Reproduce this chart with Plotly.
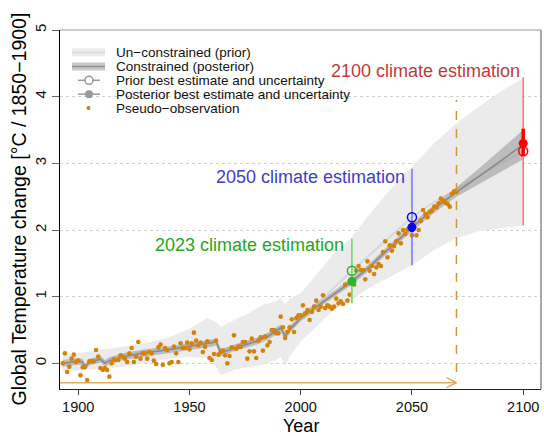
import plotly.graph_objects as go

# ---------------- data ----------------
obs_start = 1893
obs_values = [
    0.00, 0.15, -0.13, -0.05, 0.07, 0.13, 0.02, 0.04, -0.18, -0.06,   # 1893-1902
    -0.05, -0.25, 0.03, 0.03, 0.03, 0.20, 0.10, -0.07, -0.10, -0.07,  # 1903-1912
    -0.10, -0.20, 0.00, 0.06, 0.05, 0.05, 0.12, 0.10, 0.07, 0.02,     # 1913-1922
    0.15, 0.23, 0.02, 0.10, 0.32, 0.07, 0.15, 0.15, 0.07, 0.17,       # 1923-1932
    0.15, 0.04, -0.01, 0.24, 0.28, -0.02, 0.23, 0.20, 0.00, 0.02,     # 1933-1942
    0.25, 0.15, 0.02, 0.30, 0.23, 0.23, 0.31, 0.21, 0.30, 0.46,       # 1943-1952
    0.34, 0.27, 0.31, 0.17, 0.25, 0.33, 0.08, 0.05, 0.14, 0.34,       # 1953-1962
    0.13, 0.17, 0.19, 0.12, 0.00, 0.11, 0.24, 0.42, 0.22, 0.25,       # 1963-1972
    0.25, 0.32, 0.32, 0.07, 0.18, 0.37, 0.18, 0.08, 0.34, 0.39,       # 1973-1982
    0.19, 0.40, 0.27, 0.32, 0.50, 0.50, 0.45, 0.45, 0.70, 0.54,       # 1983-1992
    0.38, 0.47, 0.54, 0.66, 0.47, 0.68, 0.72, 0.72, 0.87, 0.75,       # 1993-2002
    0.80, 0.65, 0.77, 0.85, 0.94, 0.80, 0.85, 1.02, 0.83, 0.87,       # 2003-2012
    0.85, 0.82, 0.85, 0.97, 0.90, 0.93, 0.89, 1.18, 0.94, 1.03,       # 2013-2022
    1.22, 1.18, 1.39, 1.46, 1.40, 1.40, 1.26, 1.53, 1.39, 1.46,       # 2023-2032
    1.34, 1.44, 1.49, 1.46, 1.67, 1.83, 1.59, 1.77, 1.69, 1.76,       # 2033-2042
    1.83, 1.95, 1.80, 2.00, 1.94, 2.01, 2.05, 1.92, 2.09, 1.92,       # 2043-2052
    2.00, 2.14, 2.30, 2.24, 2.19, 2.27, 2.29, 2.35, 2.34, 2.40,       # 2053-2062
    2.47, 2.44, 2.41, 2.39, 2.35, 2.54, 2.58, 2.57,                   # 2063-2070
]
obs_years = list(range(obs_start, obs_start + len(obs_values)))

post_years = [1893, 1900, 1902, 1903, 1905, 1910, 1912, 1914, 1920, 1930, 1940, 1950,
              1960, 1962, 1964, 1966, 1970, 1980, 1985, 1990, 1991, 1993, 1995, 2000,
              2005, 2010, 2015, 2020, 2023, 2030, 2040, 2050, 2060, 2070, 2080, 2090, 2100]
post_mean = [0.00, 0.03, 0.02, -0.06, 0.02, 0.06, 0.00, 0.04, 0.10, 0.16, 0.20, 0.25,
             0.30, 0.32, 0.16, 0.18, 0.23, 0.33, 0.40, 0.50, 0.53, 0.40, 0.50, 0.68,
             0.80, 0.93, 1.05, 1.16, 1.23, 1.42, 1.73, 2.04, 2.32, 2.57, 2.80, 3.04, 3.28]
post_lo = [-0.05, -0.02, -0.03, -0.11, -0.03, 0.01, -0.05, -0.01, 0.05, 0.11, 0.15, 0.20,
           0.25, 0.27, 0.10, 0.13, 0.18, 0.28, 0.35, 0.45, 0.48, 0.34, 0.45, 0.63,
           0.75, 0.88, 1.00, 1.11, 1.18, 1.37, 1.68, 1.98, 2.26, 2.50, 2.68, 2.87, 3.06]
post_hi = [0.05, 0.08, 0.07, -0.01, 0.07, 0.11, 0.05, 0.09, 0.15, 0.21, 0.25, 0.30,
           0.35, 0.37, 0.22, 0.23, 0.28, 0.38, 0.45, 0.55, 0.58, 0.46, 0.55, 0.73,
           0.85, 0.98, 1.10, 1.21, 1.28, 1.47, 1.78, 2.10, 2.38, 2.64, 2.92, 3.21, 3.50]

prior_mean_years = [1893, 1900, 1903, 1905, 1910, 1912, 1920, 1930, 1940, 1950, 1960, 1962,
                    1964, 1970, 1980, 1990, 1991, 1993, 1995, 2000, 2005, 2010, 2015, 2020,
                    2023, 2030, 2040, 2050, 2060, 2070, 2080, 2090, 2100]
prior_mean = [0.00, 0.03, -0.04, 0.02, 0.07, 0.02, 0.11, 0.17, 0.21, 0.27, 0.33, 0.35,
              0.20, 0.26, 0.36, 0.53, 0.56, 0.45, 0.54, 0.72, 0.84, 0.98, 1.13, 1.29,
              1.39, 1.60, 1.90, 2.19, 2.42, 2.62, 2.81, 3.00, 3.18]

prior_years = [1893, 1900, 1910, 1920, 1930, 1940, 1950, 1958, 1962, 1964, 1970, 1977,
               1983, 1989, 1991, 1993, 1995, 2000, 2005, 2010, 2015, 2020, 2023, 2030,
               2040, 2050, 2060, 2070, 2080, 2090, 2100]
prior_lo = [-0.12, -0.10, -0.08, -0.05, 0.00, 0.07, 0.10, 0.08, -0.05, -0.18, -0.10, -0.05,
            -0.02, 0.05, 0.10, -0.05, 0.10, 0.33, 0.48, 0.65, 0.80, 0.90, 0.95, 1.12,
            1.30, 1.47, 1.70, 1.88, 1.98, 2.03, 2.07]
prior_hi = [0.12, 0.15, 0.20, 0.25, 0.30, 0.38, 0.52, 0.68, 0.62, 0.55, 0.65, 0.76,
            0.88, 0.93, 0.98, 0.88, 0.97, 1.05, 1.25, 1.45, 1.65, 1.80, 1.90, 2.20,
            2.60, 2.95, 3.30, 3.60, 3.85, 4.08, 4.28]

est_years = [2023, 2050, 2100]
est_labels = ["2023 climate estimation", "2050 climate estimation", "2100 climate estimation"]
est_label_y = [1.78, 2.80, 4.39]
prior_best = [1.39, 2.19, 3.18]
prior_low = [0.90, 1.47, 2.07]
prior_high = [1.87, 2.92, 4.29]
post_best = [1.23, 2.04, 3.30]
post_low = [1.17, 1.97, 3.12]
post_high = [1.29, 2.11, 3.52]

horizon_year = 2070
horizon_top = 3.95
horizon_bottom = -0.13
arrow_y = -0.29

x_ticks = [1900, 1950, 2000, 2050, 2100]
y_ticks = [0, 1, 2, 3, 4, 5]

# ---------------- styling ----------------
FONT = "Liberation Sans, Arial, Helvetica, sans-serif"
text_colors = ["#22a822", "#3d3dcc", "#c23a3a"]
range_colors = ["#72d472", "#7b7bff", "#ff7b7b"]
marker_colors = ["#2db42d", "#0000ff", "#ff0000"]
OBS_COLOR = "#d4820a"
XR = [1891.8, 2108.0]
YR = [-0.385, 5.0]

W, H = 544, 436
ML, MR, MT, MB = 60, 3, 30, 47

fig = go.Figure()

# prior (unconstrained) envelope
fig.add_trace(go.Scatter(
    x=prior_years + prior_years[::-1], y=prior_hi + prior_lo[::-1],
    fill="toself", fillcolor="#ebebeb", mode="lines", line=dict(width=0),
    hoverinfo="skip", showlegend=False))
fig.add_trace(go.Scatter(
    x=prior_mean_years, y=prior_mean, mode="lines",
    line=dict(color="#d8d8d8", width=2), hoverinfo="skip", showlegend=False))
# posterior (constrained) envelope
fig.add_trace(go.Scatter(
    x=post_years + post_years[::-1], y=post_hi + post_lo[::-1],
    fill="toself", fillcolor="rgba(150,150,150,0.55)", mode="lines", line=dict(width=0),
    hoverinfo="skip", showlegend=False))
fig.add_trace(go.Scatter(
    x=post_years, y=post_mean, mode="lines",
    line=dict(color="#8a8a8a", width=1.6), hoverinfo="skip", showlegend=False))
# pseudo-observations
fig.add_trace(go.Scatter(
    x=obs_years, y=obs_values, mode="markers",
    marker=dict(color=OBS_COLOR, size=4.6, line=dict(width=0)),
    showlegend=False))

annotations = []
for i, yr in enumerate(est_years):
    fig.add_trace(go.Scatter(x=[yr, yr], y=[prior_low[i], prior_high[i]], mode="lines",
                             line=dict(color=range_colors[i], width=1.6), showlegend=False))
    fig.add_trace(go.Scatter(x=[yr, yr], y=[post_low[i], post_high[i]], mode="lines",
                             line=dict(color=marker_colors[i], width=3.5), showlegend=False))
    fig.add_trace(go.Scatter(x=[yr], y=[prior_best[i]], mode="markers",
                             marker=dict(symbol="circle-open", size=9, color=marker_colors[i],
                                         line=dict(width=1.5, color=marker_colors[i])),
                             showlegend=False))
    fig.add_trace(go.Scatter(x=[yr], y=[post_best[i]], mode="markers",
                             marker=dict(symbol="circle", size=9, color=marker_colors[i]),
                             showlegend=False))
    annotations.append(dict(x=yr, y=est_label_y[i], xref="x", yref="y", text=est_labels[i],
                            showarrow=False, xanchor="right", yanchor="middle",
                            xshift=[-6, -5, -1][i],
                            font=dict(family=FONT, size=18, color=text_colors[i])))

shapes = []
# horizon dashed line
shapes.append(dict(type="line", xref="x", yref="y", x0=horizon_year, x1=horizon_year,
                   y0=horizon_bottom, y1=horizon_top,
                   line=dict(color="#d8923a", width=1.5, dash="dash")))
# arrow
ARC = "#e2aa5e"
shapes.append(dict(type="line", xref="x", yref="y", x0=XR[0], x1=horizon_year,
                   y0=arrow_y, y1=arrow_y, line=dict(color=ARC, width=1.5)))
for s in (1, -1):
    shapes.append(dict(type="line", xref="x", yref="y", x0=horizon_year - 4.5, x1=horizon_year,
                       y0=arrow_y + s * 0.075, y1=arrow_y, line=dict(color=ARC, width=1.5)))
# frame top/right
shapes.append(dict(type="line", xref="paper", yref="paper", x0=0, x1=1, y0=1, y1=1,
                   line=dict(color="#999999", width=1)))
shapes.append(dict(type="line", xref="paper", yref="paper", x0=1, x1=1, y0=0, y1=1,
                   line=dict(color="#555555", width=1)))

# ---------------- manual legend (pixel overlay axes) ----------------
leg_y0, leg_dy = 52.5, 13.9
leg_text = ["Un\u2212constrained (prior)", "Constrained (posterior)",
            "Prior best estimate and uncertainty", "Posterior best estimate and uncertainty",
            "Pseudo\u2212observation"]
rows = [leg_y0 + k * leg_dy for k in range(5)]
# row 1
fig.add_trace(go.Scatter(x=[72, 105], y=[rows[0]] * 2, xaxis="x2", yaxis="y2", mode="lines",
                         line=dict(color="#ebebeb", width=8), showlegend=False))
fig.add_trace(go.Scatter(x=[72, 105], y=[rows[0]] * 2, xaxis="x2", yaxis="y2", mode="lines",
                         line=dict(color="#d8d8d8", width=1.5), showlegend=False))
# row 2
fig.add_trace(go.Scatter(x=[72, 105], y=[rows[1]] * 2, xaxis="x2", yaxis="y2", mode="lines",
                         line=dict(color="#c8c8c8", width=8), showlegend=False))
fig.add_trace(go.Scatter(x=[72, 105], y=[rows[1]] * 2, xaxis="x2", yaxis="y2", mode="lines",
                         line=dict(color="#909090", width=1.5), showlegend=False))
# row 3, 4
fig.add_trace(go.Scatter(x=[78, 100], y=[rows[2]] * 2, xaxis="x2", yaxis="y2", mode="lines",
                         line=dict(color="#999999", width=1.5), showlegend=False))
fig.add_trace(go.Scatter(x=[89], y=[rows[2]], xaxis="x2", yaxis="y2", mode="markers",
                         marker=dict(symbol="circle", size=8, color="white",
                                     line=dict(color="#999999", width=1.5)), showlegend=False))
fig.add_trace(go.Scatter(x=[78, 100], y=[rows[3]] * 2, xaxis="x2", yaxis="y2", mode="lines",
                         line=dict(color="#999999", width=1.5), showlegend=False))
fig.add_trace(go.Scatter(x=[89], y=[rows[3]], xaxis="x2", yaxis="y2", mode="markers",
                         marker=dict(symbol="circle", size=8, color="#999999"), showlegend=False))
fig.add_trace(go.Scatter(x=[88.5], y=[rows[4]], xaxis="x2", yaxis="y2", mode="markers",
                         marker=dict(symbol="circle", size=4, color=OBS_COLOR), showlegend=False))
for k, t in enumerate(leg_text):
    annotations.append(dict(x=114, y=rows[k], xref="x2", yref="y2", text=t, showarrow=False,
                            xanchor="left", yanchor="middle",
                            font=dict(family=FONT, size=13.5, color="#111111")))

# axis titles
annotations.append(dict(x=(18 - ML) / (W - ML - MR), y=0.5, xref="paper", yref="paper",
                        text="Global Temperature change [\u00b0C / 1850\u22121900]",
                        textangle=-90, showarrow=False, xanchor="center", yanchor="middle",
                        font=dict(family=FONT, size=19.5, color="#000000")))
annotations.append(dict(x=0.5, y=(389 - 426) / (H - MT - MB), xref="paper", yref="paper",
                        text="Year", showarrow=False, xanchor="center", yanchor="middle",
                        borderpad=0,
                        font=dict(family=FONT, size=18, color="#000000")))

fig.update_layout(
    width=W, height=H,
    margin=dict(l=ML, r=MR, t=MT, b=MB, pad=0),
    paper_bgcolor="white", plot_bgcolor="white",
    showlegend=False,
    font=dict(family=FONT, size=15, color="#000000"),
    xaxis=dict(range=XR, tickvals=x_ticks, ticks="outside", ticklen=5, tickcolor="#444444",
               showgrid=False, zeroline=False, showline=True, linecolor="#222222", linewidth=1,
               tickfont=dict(family=FONT, size=14.5, color="#111111")),
    yaxis=dict(range=YR, tickvals=y_ticks, ticks="outside", ticklen=7, tickcolor="#666666",
               tickangle=-90, showgrid=True, gridcolor="#cfcfcf", griddash="dot", gridwidth=1,
               zeroline=False, showline=True, linecolor="#000000", linewidth=1,
               tickfont=dict(family=FONT, size=15, color="#111111")),
    xaxis2=dict(range=[ML, W - MR], overlaying="x", visible=False, fixedrange=True),
    yaxis2=dict(range=[H - MB, MT], overlaying="y", visible=False, fixedrange=True),
    shapes=shapes,
    annotations=annotations,
)

fig.write_html("out.html",
               config={"displayModeBar": False},
               post_script="document.body.style.margin='0px';document.body.style.overflow='hidden';")
